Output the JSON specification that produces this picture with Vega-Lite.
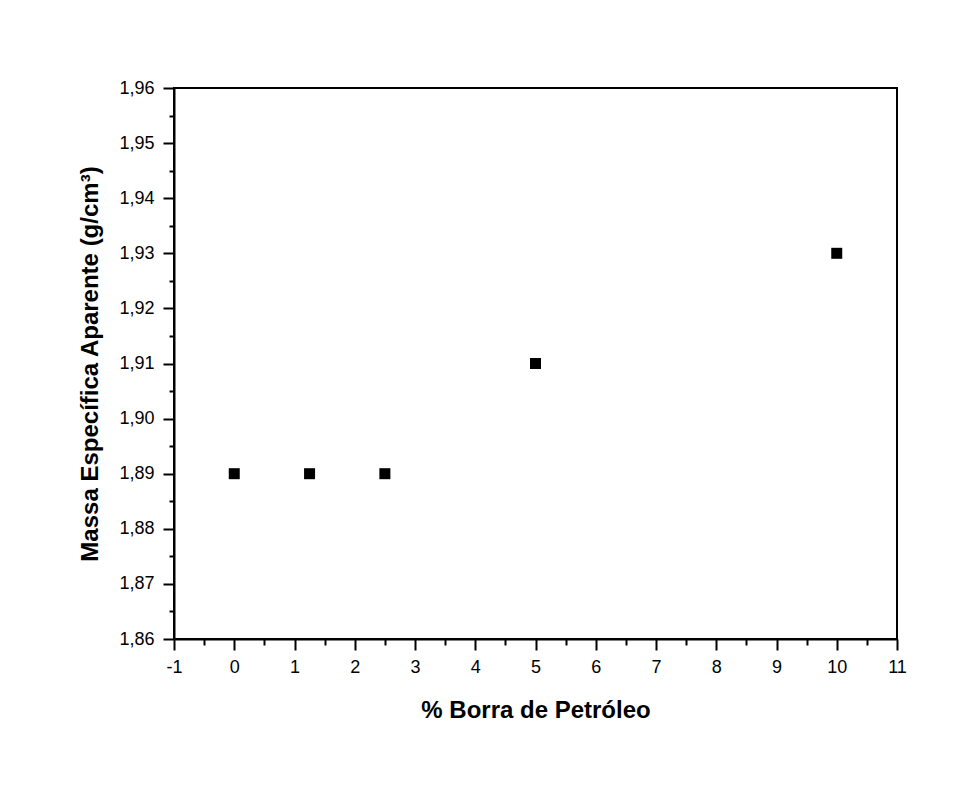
{
  "$schema": "https://vega.github.io/schema/vega-lite/v6.json",
  "autosize": {"type": "none"},
  "width": 723,
  "height": 551,
  "padding": {"left": 174, "top": 88, "right": 66, "bottom": 150},
  "background": "white",
  "config": {
    "view": {"stroke": "black", "strokeWidth": 2},
    "font": "Liberation Sans",
    "axis": {
      "domainColor": "black",
      "domainWidth": 2,
      "tickColor": "black",
      "tickWidth": 2,
      "labelColor": "black",
      "labelFont": "Liberation Sans",
      "labelFontSize": 18,
      "titleColor": "black",
      "titleFont": "Liberation Sans",
      "titleFontWeight": "bold",
      "titleFontSize": 24,
      "grid": false
    }
  },
  "data": {
    "values": [
      {"borra": 0, "massa": 1.89},
      {"borra": 1.25, "massa": 1.89},
      {"borra": 2.5, "massa": 1.89},
      {"borra": 5, "massa": 1.91},
      {"borra": 10, "massa": 1.93}
    ]
  },
  "mark": {"type": "point", "shape": "square", "filled": true, "color": "black", "size": 121, "opacity": 1},
  "encoding": {
    "x": {
      "field": "borra",
      "type": "quantitative",
      "scale": {"domain": [-1, 11], "nice": false, "zero": false},
      "axis": {
        "title": "% Borra de Petróleo",
        "values": [-1,-0.5,0,0.5,1,1.5,2,2.5,3,3.5,4,4.5,5,5.5,6,6.5,7,7.5,8,8.5,9,9.5,10,10.5,11],
        "labelExpr": "round(datum.value*10) % 10 != 0 ? '' : '' + round(datum.value)",
        "tickSize": {"condition": {"test": "round(datum.value*10) % 10 != 0", "value": 6}, "value": 11},
        "labelPadding": 8,
        "labelFlush": false,
        "labelOverlap": false,
        "titlePadding": 22
      }
    },
    "y": {
      "field": "massa",
      "type": "quantitative",
      "scale": {"domain": [1.86, 1.96], "nice": false, "zero": false},
      "axis": {
        "title": "Massa Específica Aparente (g/cm³)",
        "values": [1.86,1.865,1.87,1.875,1.88,1.885,1.89,1.895,1.9,1.905,1.91,1.915,1.92,1.925,1.93,1.935,1.94,1.945,1.95,1.955,1.96],
        "labelExpr": "round(datum.value*1000) % 10 != 0 ? '' : replace(format(datum.value, '.2f'), '.', ',')",
        "tickSize": {"condition": {"test": "round(datum.value*1000) % 10 != 0", "value": 5}, "value": 11},
        "labelPadding": 9,
        "labelFlush": false,
        "labelOverlap": false,
        "titlePadding": 16
      }
    }
  }
}
